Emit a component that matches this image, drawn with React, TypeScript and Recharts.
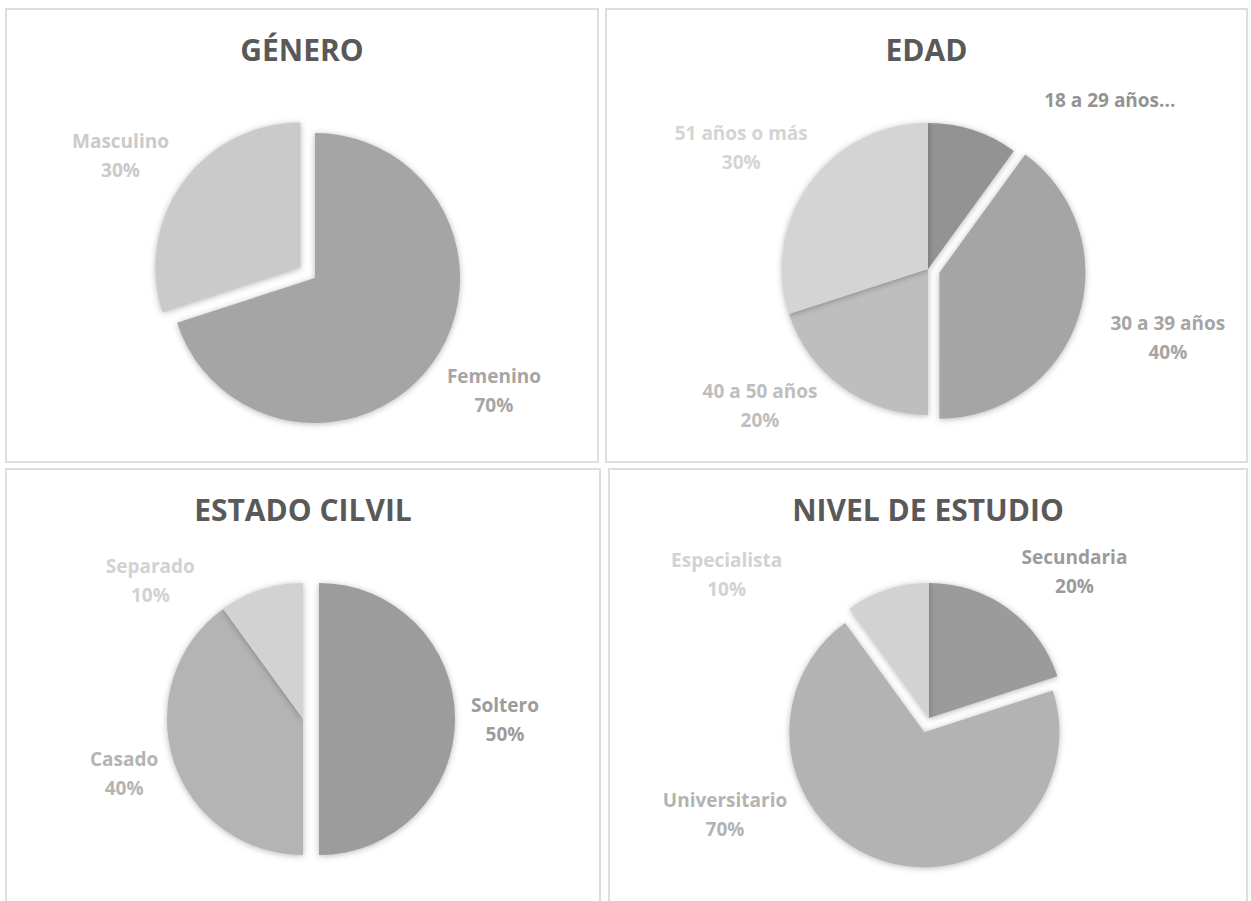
import { PieChart, Pie, Cell, Sector } from 'recharts';

// values
const GENERO_NAMES = ['Femenino', 'Masculino'];
const GENERO_VALUES = [70, 30];

const EDAD_NAMES = ['18 a 29 años', '30 a 39 años', '40 a 50 años', '51 años o más'];
const EDAD_VALUES = [10, 40, 20, 30];

const CIVIL_NAMES = ['Soltero', 'Casado', 'Separado'];
const CIVIL_VALUES = [50, 40, 10];

const ESTUDIO_NAMES = ['Secundaria', 'Universitario', 'Especialista'];
const ESTUDIO_VALUES = [20, 70, 10];

const RAD = Math.PI / 180;
const LABEL_GAP = 70;
const FONT = '"Open Sans", "Noto Sans", sans-serif';

type PanelCfg = {
  title: string;
  names: string[];
  values: number[];
  colors: string[];
  left: number;
  top: number;
  width: number;
  height: number;
  cx: number;
  cy: number;
  r: number;
  explode: Record<string, number>;
  nudge: Record<string, [number, number]>;
  truncated?: string[];
};

const PANELS: PanelCfg[] = [
  {
    title: 'GÉNERO',
    names: GENERO_NAMES,
    values: GENERO_VALUES,
    colors: ['#a5a5a5', '#cacaca'],
    left: 5, top: 8, width: 594, height: 455,
    cx: 310, cy: 270, r: 145,
    explode: { Masculino: 18 },
    nudge: { Femenino: [5, -13], Masculino: [-6, 15] },
  },
  {
    title: 'EDAD',
    names: EDAD_NAMES,
    values: EDAD_VALUES,
    colors: ['#939393', '#a5a5a5', '#bebebe', '#d4d4d4'],
    left: 605, top: 8, width: 643, height: 455,
    cx: 323, cy: 261, r: 146,
    explode: { '30 a 39 años': 12 },
    nudge: {
      '18 a 29 años': [115, 37],
      '30 a 39 años': [23, -1],
      '40 a 50 años': [-41, -37],
      '51 años o más': [-12, 6],
    },
    truncated: ['18 a 29 años'],
  },
  {
    title: 'ESTADO CILVIL',
    names: CIVIL_NAMES,
    values: CIVIL_VALUES,
    colors: ['#9c9c9c', '#b4b4b4', '#d2d2d2'],
    left: 5, top: 468, width: 596, height: 440,
    cx: 298, cy: 251, r: 136,
    explode: { Soltero: 16 },
    nudge: { Soltero: [-20, 1], Casado: [17, -8], Separado: [-89, 58] },
  },
  {
    title: 'NIVEL DE ESTUDIO',
    names: ESTUDIO_NAMES,
    values: ESTUDIO_VALUES,
    colors: ['#9b9b9b', '#b3b3b3', '#d2d2d2'],
    left: 608, top: 468, width: 640, height: 440,
    cx: 321, cy: 250, r: 135,
    explode: { Universitario: 15 },
    nudge: { Secundaria: [25, 20], Universitario: [-136, -112], Especialista: [-139, 52] },
  },
];

function explodedShape(cfg: PanelCfg) {
  return (props: any) => {
    const d = cfg.explode[props.name] ?? 0;
    const dx = d * Math.cos(-props.midAngle * RAD);
    const dy = d * Math.sin(-props.midAngle * RAD);
    return (
      <g style={{ filter: 'drop-shadow(0px 1px 3px rgba(0,0,0,0.28))' }}>
        <Sector {...props} cx={props.cx + dx} cy={props.cy + dy} stroke="none" />
      </g>
    );
  };
}

function sliceLabel(cfg: PanelCfg) {
  return (props: any) => {
    const { cx, cy, midAngle, name, percent, index } = props;
    const dist = cfg.r + (cfg.explode[name] ?? 0) + LABEL_GAP;
    const [nx, ny] = cfg.nudge[name] ?? [0, 0];
    const x = cx + dist * Math.cos(-midAngle * RAD) + nx;
    const y = cy + dist * Math.sin(-midAngle * RAD) + ny;
    const color = cfg.colors[index % cfg.colors.length];
    const style = { fontFamily: FONT, fontWeight: 700, fontSize: 19 };
    if (cfg.truncated?.includes(name)) {
      return (
        <text x={x} y={y + 6} textAnchor="middle" fill={color} style={style}>
          {name}...
        </text>
      );
    }
    return (
      <g>
        <text x={x} y={y - 8.5} textAnchor="middle" fill={color} style={style}>
          {name}
        </text>
        <text x={x} y={y + 20.5} textAnchor="middle" fill={color} style={style}>
          {Math.round(percent * 100)}%
        </text>
      </g>
    );
  };
}

function PiePanel({ cfg }: { cfg: PanelCfg }) {
  const data = cfg.names.map((name, i) => ({ name, value: cfg.values[i] }));
  return (
    <div
      style={{
        position: 'absolute',
        left: cfg.left,
        top: cfg.top,
        width: cfg.width,
        height: cfg.height,
        boxSizing: 'border-box',
        border: '2px solid #dedede',
        background: '#fff',
      }}
    >
      <div style={{ position: 'absolute', left: -2, top: -2 }}>
        <PieChart width={cfg.width} height={cfg.height} margin={{ top: 0, right: 0, bottom: 0, left: 0 }}>
          <Pie
            data={data}
            dataKey="value"
            nameKey="name"
            cx={cfg.cx}
            cy={cfg.cy}
            outerRadius={cfg.r}
            startAngle={90}
            endAngle={-270}
            stroke="none"
            shape={explodedShape(cfg)}
            label={sliceLabel(cfg)}
            labelLine={false}
            isAnimationActive={false}
          >
            {data.map((d, i) => (
              <Cell key={d.name} fill={cfg.colors[i % cfg.colors.length]} />
            ))}
          </Pie>
        </PieChart>
      </div>
      <svg
        width={cfg.width}
        height={80}
        style={{ position: 'absolute', left: -2, top: -2, pointerEvents: 'none' }}
      >
        <text
          x={cfg.width / 2}
          y={53}
          textAnchor="middle"
          fill="#595959"
          style={{ fontFamily: FONT, fontWeight: 700, fontSize: 30 }}
        >
          {cfg.title}
        </text>
      </svg>
    </div>
  );
}

export default function App() {
  return (
    <div
      style={{
        position: 'absolute',
        left: 0,
        top: 0,
        width: 1251,
        height: 901,
        overflow: 'hidden',
        background: '#fff',
      }}
    >
      {PANELS.map((p) => (
        <PiePanel key={p.title} cfg={p} />
      ))}
    </div>
  );
}
